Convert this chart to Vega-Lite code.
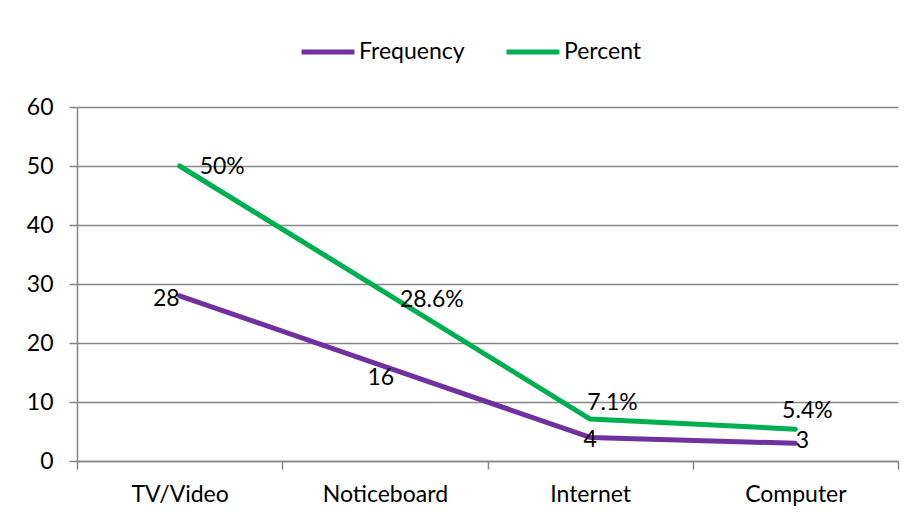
{
  "$schema": "https://vega.github.io/schema/vega-lite/v6.json",
  "width": 821,
  "height": 354,
  "autosize": {"type": "none"},
  "padding": {"left": 77, "top": 107, "right": 16, "bottom": 59},
  "background": "white",
  "config": {
    "font": "Lato",
    "view": {"stroke": null},
    "axis": {"labelFont": "Lato", "labelFontSize": 23, "labelColor": "#000000", "domainColor": "#868686", "tickColor": "#868686", "gridColor": "#868686", "domainWidth": 1.5, "tickWidth": 1.5, "gridWidth": 1.5}
  },
  "data": {
    "values": [
      {"source": "TV/Video", "series": "Frequency", "value": 28, "label": "28"},
      {"source": "Noticeboard", "series": "Frequency", "value": 16, "label": "16"},
      {"source": "Internet", "series": "Frequency", "value": 4, "label": "4"},
      {"source": "Computer", "series": "Frequency", "value": 3, "label": "3"},
      {"source": "TV/Video", "series": "Percent", "value": 50, "label": "50%"},
      {"source": "Noticeboard", "series": "Percent", "value": 28.6, "label": "28.6%"},
      {"source": "Internet", "series": "Percent", "value": 7.1, "label": "7.1%"},
      {"source": "Computer", "series": "Percent", "value": 5.4, "label": "5.4%"}
    ]
  },
  "encoding": {
    "x": {
      "field": "source", "type": "nominal", "sort": null,
      "scale": {"type": "band", "paddingInner": 0, "paddingOuter": 0},
      "axis": {"title": null, "labelAngle": 0, "tickBand": "extent", "tickSize": 8, "labelPadding": 14, "grid": false}
    },
    "y": {
      "field": "value", "type": "quantitative",
      "scale": {"domain": [0, 60], "nice": false},
      "axis": {"title": null, "values": [0, 10, 20, 30, 40, 50, 60], "tickSize": 8, "labelPadding": 16, "grid": true}
    }
  },
  "layer": [
    {
      "mark": {"type": "line", "strokeWidth": 5, "strokeCap": "round", "strokeJoin": "round"},
      "encoding": {
        "color": {
          "field": "series", "type": "nominal",
          "scale": {"domain": ["Frequency", "Percent"], "range": ["#7030A0", "#00B050"]},
          "legend": {
            "title": null, "orient": "none", "direction": "horizontal",
            "legendX": 222, "legendY": -84,
            "symbolType": "stroke", "symbolSize": 2800, "symbolStrokeWidth": 5,
            "labelFont": "Lato", "labelFontSize": 23, "labelColor": "#000000",
            "labelOffset": 2, "columnPadding": 31
          }
        }
      }
    },
    {
      "transform": [{"filter": "datum.label == '28'"}],
      "mark": {"type": "text", "font": "Lato", "fontSize": 23, "align": "right", "baseline": "middle", "dx": 0, "dy": 3},
      "encoding": {"text": {"field": "label"}}
    },
    {
      "transform": [{"filter": "datum.label == '16'"}],
      "mark": {"type": "text", "font": "Lato", "fontSize": 23, "align": "center", "baseline": "middle", "dx": -4, "dy": 11},
      "encoding": {"text": {"field": "label"}}
    },
    {
      "transform": [{"filter": "datum.label == '4'"}],
      "mark": {"type": "text", "font": "Lato", "fontSize": 23, "align": "center", "baseline": "middle", "dx": 0, "dy": 3},
      "encoding": {"text": {"field": "label"}}
    },
    {
      "transform": [{"filter": "datum.label == '3'"}],
      "mark": {"type": "text", "font": "Lato", "fontSize": 23, "align": "center", "baseline": "middle", "dx": 7, "dy": -2},
      "encoding": {"text": {"field": "label"}}
    },
    {
      "transform": [{"filter": "datum.label == '50%'"}],
      "mark": {"type": "text", "font": "Lato", "fontSize": 23, "align": "left", "baseline": "middle", "dx": 20, "dy": 1},
      "encoding": {"text": {"field": "label"}}
    },
    {
      "transform": [{"filter": "datum.label == '28.6%'"}],
      "mark": {"type": "text", "font": "Lato", "fontSize": 23, "align": "left", "baseline": "middle", "dx": 15, "dy": 8},
      "encoding": {"text": {"field": "label"}}
    },
    {
      "transform": [{"filter": "datum.label == '7.1%'"}],
      "mark": {"type": "text", "font": "Lato", "fontSize": 23, "align": "left", "baseline": "middle", "dx": -3, "dy": -16},
      "encoding": {"text": {"field": "label"}}
    },
    {
      "transform": [{"filter": "datum.label == '5.4%'"}],
      "mark": {"type": "text", "font": "Lato", "fontSize": 23, "align": "center", "baseline": "middle", "dx": 12, "dy": -18},
      "encoding": {"text": {"field": "label"}}
    }
  ]
}
